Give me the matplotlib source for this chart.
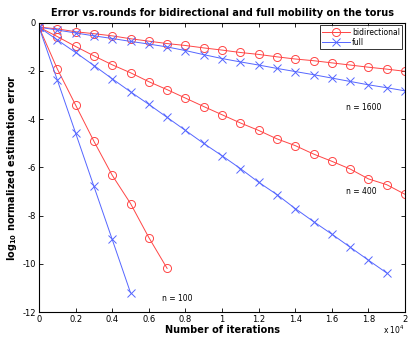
import numpy as np
import matplotlib
matplotlib.use("Agg")
import matplotlib.pyplot as plt

# iterations (markers every 1000 rounds)
iters = np.arange(0, 21000, 1000)

# log10 normalized estimation error
bidir_1600 = [-0.19, -0.26, -0.38, -0.46, -0.55, -0.67, -0.77, -0.87, -0.95, -1.05, -1.14,
              -1.24, -1.32, -1.42, -1.51, -1.58, -1.67, -1.76, -1.85, -1.93, -2.02]
full_1600 = [-0.19, -0.31, -0.43, -0.55, -0.66, -0.78, -0.89, -1.01, -1.16, -1.33, -1.49,
             -1.63, -1.76, -1.90, -2.03, -2.16, -2.30, -2.44, -2.58, -2.70, -2.83]
bidir_400 = [-0.19, -0.58, -0.99, -1.38, -1.75, -2.08, -2.45, -2.78, -3.13, -3.48, -3.82,
             -4.16, -4.47, -4.82, -5.10, -5.45, -5.75, -6.07, -6.48, -6.72, -7.12]
full_400 = [-0.19, -0.72, -1.24, -1.78, -2.33, -2.87, -3.39, -3.93, -4.47, -5.01, -5.52,
            -6.05, -6.62, -7.13, -7.71, -8.25, -8.77, -9.31, -9.85, -10.38]
bidir_100 = [-0.19, -1.92, -3.42, -4.92, -6.33, -7.50, -8.91, -10.19]
full_100 = [-0.19, -2.38, -4.58, -6.79, -8.99, -11.2]

labels = ["n = 1600", "n = 400", "n = 100"]
label_pos = [(16800, -3.5), (16750, -7.0), (6700, -11.45)]

red = '#ff4545'
blue = '#5566ff'

fig = plt.figure(figsize=(4.15, 3.37), dpi=100)
ax = fig.add_axes([0.094, 0.074, 0.882, 0.859])

kw_r = dict(color=red, marker='o', markersize=5.8, markerfacecolor='none',
            markeredgewidth=0.7, linewidth=0.7)
kw_b = dict(color=blue, marker='x', markersize=5.5, markeredgewidth=0.7, linewidth=0.7)

ax.plot(iters[:len(bidir_1600)], bidir_1600, label='bidirectional', **kw_r)
ax.plot(iters[:len(full_1600)], full_1600, label='full', **kw_b)
ax.plot(iters[:len(bidir_400)], bidir_400, **kw_r)
ax.plot(iters[:len(full_400)], full_400, **kw_b)
ax.plot(iters[:len(bidir_100)], bidir_100, **kw_r)
ax.plot(iters[:len(full_100)], full_100, **kw_b)

for txt, (x, y) in zip(labels, label_pos):
    ax.text(x, y, txt, fontsize=5.5, ha='left', va='center')

ax.set_xlim(0, 20000)
ax.set_ylim(-12, 0)
ax.set_xticks(np.arange(0, 20001, 2000))
ax.set_xticklabels(['0', '0.2', '0.4', '0.6', '0.8', '1', '1.2', '1.4', '1.6', '1.8', '2'])
ax.set_yticks(np.arange(-12, 1, 2))
ax.set_yticklabels(['-12', '-10', '-8', '-6', '-4', '-2', '0'])
ax.tick_params(direction='in', top=True, right=True, labelsize=6, length=3,
               width=0.6, pad=2)
for sp in ax.spines.values():
    sp.set_linewidth(0.8)

ax.text(1.0, -0.04, r'x 10$^4$', transform=ax.transAxes, fontsize=5.5,
        ha='right', va='top')

ax.set_title('Error vs.rounds for bidirectional and full mobility on the torus',
             fontsize=7, fontweight='bold', pad=5)
ax.set_xlabel('Number of iterations', fontsize=7, fontweight='bold', labelpad=1)
ax.set_ylabel(r'log$_{\mathbf{10}}$ normalized estimation error', fontsize=7,
              fontweight='bold', labelpad=3)

leg = ax.legend(loc='upper right', fontsize=5.5, frameon=True, fancybox=False,
                edgecolor='black', borderpad=0.3, handlelength=3.6,
                labelspacing=0.2, handletextpad=0.3, borderaxespad=0.35)
leg.get_frame().set_linewidth(0.7)

fig.savefig('out.png', dpi=100)
